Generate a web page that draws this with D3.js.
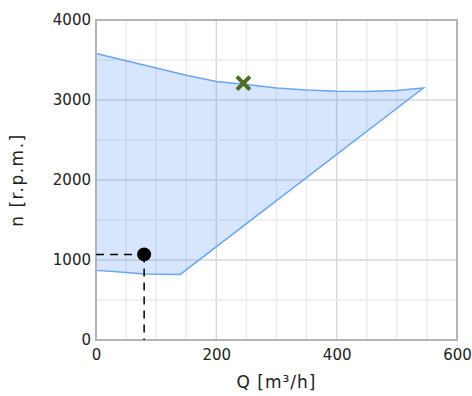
<!DOCTYPE html>
<html>
<head>
<meta charset="utf-8">
<script src="https://cdn.jsdelivr.net/npm/d3@7"></script>
<style>
  body { margin: 0; background: #fff; }
  text { font-family: "DejaVu Sans", sans-serif; fill: #222; }
</style>
</head>
<body>
<svg id="chart"></svg>
<script>
// Operating envelope, upper limit (Q in m3/h, n in rpm)
const upperQ = [0, 50, 100, 150, 200, 250, 300, 350, 400, 450, 500, 544];
const upperN = [3580, 3490, 3400, 3310, 3230, 3195, 3150, 3125, 3110, 3105, 3120, 3150];

// lower limit, from left to the far right corner
const lowerQ = [0, 30, 80, 140, 544];
const lowerN = [870, 855, 825, 820, 3150];

// points
const dutyPoint = { q: 80, n: 1070 };
const bestPoint = { q: 245, n: 3210 };

const xTicks = [0, 200, 400, 600];
const yTicks = [0, 1000, 2000, 3000, 4000];
const xMinor = d3.range(0, 601, 50);
const yMinor = d3.range(0, 4001, 500);

const width = 472;
const height = 396;
const margin = { top: 20, right: 15, bottom: 56, left: 96 };
const innerWidth = width - margin.left - margin.right;
const innerHeight = height - margin.top - margin.bottom;

const svg = d3.select('#chart')
  .attr('width', width)
  .attr('height', height);

const g = svg.append('g')
  .attr('transform', `translate(${margin.left},${margin.top})`);

const x = d3.scaleLinear().domain([0, 600]).range([0, innerWidth]);
const y = d3.scaleLinear().domain([0, 4000]).range([innerHeight, 0]);

// grid
g.append('g').selectAll('line')
  .data(xMinor)
  .join('line')
  .attr('x1', d => x(d)).attr('x2', d => x(d))
  .attr('y1', 0).attr('y2', innerHeight)
  .attr('stroke', d => d % 200 === 0 ? '#d8d8d8' : '#ececec')
  .attr('stroke-width', 1.5);

g.append('g').selectAll('line')
  .data(yMinor)
  .join('line')
  .attr('y1', d => y(d)).attr('y2', d => y(d))
  .attr('x1', 0).attr('x2', innerWidth)
  .attr('stroke', d => d % 1000 === 0 ? '#d8d8d8' : '#ececec')
  .attr('stroke-width', 1.5);

// envelope
const upper = upperQ.map((q, i) => [q, upperN[i]]);
const lower = lowerQ.map((q, i) => [q, lowerN[i]]);
const envelope = upper.concat(lower.slice().reverse());

const line = d3.line()
  .x(d => x(d[0]))
  .y(d => y(d[1]));

g.append('path')
  .datum(envelope)
  .attr('d', line.curve(d3.curveLinearClosed))
  .attr('fill', '#4d8ef5')
  .attr('fill-opacity', 0.22)
  .attr('stroke', '#6aa6f8')
  .attr('stroke-width', 1.5);

// frame
g.append('rect')
  .attr('x', 0).attr('y', 0)
  .attr('width', innerWidth).attr('height', innerHeight)
  .attr('fill', 'none')
  .attr('stroke', '#b4b4b4')
  .attr('stroke-width', 2);

// dashed guides to the duty point
g.append('line')
  .attr('x1', 0).attr('x2', x(dutyPoint.q))
  .attr('y1', y(dutyPoint.n)).attr('y2', y(dutyPoint.n))
  .attr('stroke', '#000').attr('stroke-width', 1.5)
  .attr('stroke-dasharray', '8,6');

g.append('line')
  .attr('x1', x(dutyPoint.q)).attr('x2', x(dutyPoint.q))
  .attr('y1', y(dutyPoint.n)).attr('y2', innerHeight)
  .attr('stroke', '#000').attr('stroke-width', 1.5)
  .attr('stroke-dasharray', '8,6');

g.append('circle')
  .attr('cx', x(dutyPoint.q))
  .attr('cy', y(dutyPoint.n))
  .attr('r', 7)
  .attr('fill', '#000');

// cross marker
const s = 6.5;
g.append('path')
  .attr('d', `M${-s},${-s}L${s},${s}M${-s},${s}L${s},${-s}`)
  .attr('transform', `translate(${x(bestPoint.q)},${y(bestPoint.n)})`)
  .attr('stroke', '#4e6b29')
  .attr('stroke-width', 4);

// axes
const xAxis = d3.axisBottom(x).tickValues(xTicks).tickFormat(d3.format('d')).tickSize(0).tickPadding(9);
const yAxis = d3.axisLeft(y).tickValues(yTicks).tickFormat(d3.format('d')).tickSize(0).tickPadding(5);

const gx = g.append('g')
  .attr('transform', `translate(0,${innerHeight})`)
  .call(xAxis);
const gy = g.append('g').call(yAxis);

[gx, gy].forEach(a => {
  a.select('.domain').remove();
  a.selectAll('text')
    .style('font-size', '15px')
    .style('font-family', '"DejaVu Sans", sans-serif')
    .attr('fill', '#222');
});

// axis titles
svg.append('text')
  .attr('x', margin.left + innerWidth / 2)
  .attr('y', 388)
  .attr('text-anchor', 'middle')
  .style('font-size', '17px')
  .style('letter-spacing', '1px')
  .text('Q [m³/h]');

svg.append('text')
  .attr('transform', `translate(23,${margin.top + innerHeight / 2}) rotate(-90)`)
  .attr('text-anchor', 'middle')
  .style('font-size', '17px')
  .style('letter-spacing', '1.5px')
  .text('n [r.p.m.]');
</script>
</body>
</html>
